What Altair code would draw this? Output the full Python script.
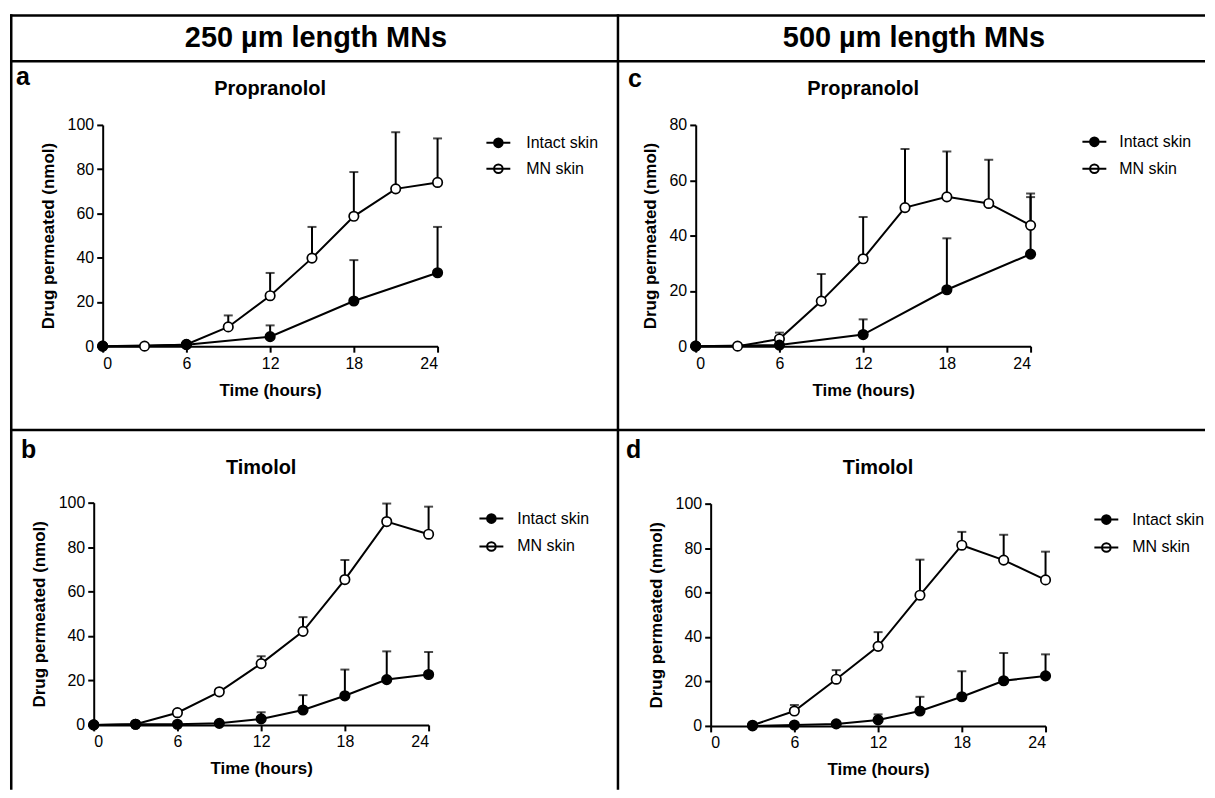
import altair as alt
import pandas as pd

FONT = "Liberation Sans, Arial, sans-serif"

headers = ["250 \u00b5m length MNs", "500 \u00b5m length MNs"]
series_names = ["Intact skin", "MN skin"]
x_ticks = [0, 6, 12, 18, 24]

# ---- panel a : 250 um, Propranolol
a_intact_t = [0, 6, 12, 18, 24]
a_intact_y = [0, 0.7, 4.3, 20.4, 33.2]
a_intact_e = [0, 0, 5.1, 18.5, 20.7]
a_mn_t = [0, 3, 6, 9, 12, 15, 18, 21, 24]
a_mn_y = [0, 0, 0.8, 8.7, 22.8, 39.8, 58.7, 71.1, 74.0]
a_mn_e = [0, 0, 0, 5.2, 10.3, 14.1, 20.0, 25.6, 19.9]

# ---- panel b : 250 um, Timolol
b_intact_t = [0, 3, 6, 9, 12, 15, 18, 21, 24]
b_intact_y = [0, 0.3, 0.3, 0.7, 2.7, 6.7, 13.1, 20.4, 22.7]
b_intact_e = [0, 0, 0, 0, 3.0, 6.7, 11.8, 12.7, 10.1]
b_mn_t = [0, 3, 6, 9, 12, 15, 18, 21, 24]
b_mn_y = [0, 0.3, 5.5, 14.9, 27.6, 42.1, 65.4, 91.5, 85.8]
b_mn_e = [0, 0, 0, 0, 3.3, 6.4, 8.8, 8.1, 12.4]

# ---- panel c : 500 um, Propranolol
c_intact_t = [0, 6, 12, 18, 24]
c_intact_y = [0, 0.4, 4.2, 20.4, 33.3]
c_intact_e = [0, 0, 5.5, 18.6, 20.6]
c_mn_t = [0, 3, 6, 9, 12, 15, 18, 21, 24]
c_mn_y = [0, 0, 2.6, 16.3, 31.6, 50.1, 54.0, 51.6, 43.7]
c_mn_e = [0, 0, 2.3, 9.8, 15.1, 21.2, 16.4, 15.8, 11.5]

# ---- panel d : 500 um, Timolol
d_intact_t = [3, 6, 9, 12, 15, 18, 21, 24]
d_intact_y = [0, 0.4, 0.9, 2.7, 6.7, 13.1, 20.3, 22.5]
d_intact_e = [0, 0, 0, 2.5, 6.4, 11.5, 12.5, 9.7]
d_mn_t = [3, 6, 9, 12, 15, 18, 21, 24]
d_mn_y = [0.3, 6.7, 21.0, 35.8, 58.8, 81.3, 74.6, 65.7]
d_mn_e = [0, 2.7, 4.1, 6.4, 16.0, 6.0, 11.4, 12.7]

LW, RW = 610, 589

panels = {
    "a": dict(drug="Propranolol", ymax=100, yticks=[0, 20, 40, 60, 80, 100],
              data=(a_intact_t, a_intact_y, a_intact_e, a_mn_t, a_mn_y, a_mn_e),
              x0=93, x1=429, y0=286, y1=64, leg=(489, 81), lab_off=15, row_pad=4,
              letter=(6, 24), title=(261, 34), w=LW, h=370, col=0, row=1),
    "b": dict(drug="Timolol", ymax=100, yticks=[0, 20, 40, 60, 80, 100],
              data=(b_intact_t, b_intact_y, b_intact_e, b_mn_t, b_mn_y, b_mn_e),
              x0=84, x1=420, y0=296, y1=73, leg=(482, 88), lab_off=13, row_pad=6,
              letter=(11, 28), title=(252, 44), w=LW, h=361, col=0, row=2),
    "c": dict(drug="Propranolol", ymax=80, yticks=[0, 20, 40, 60, 80],
              data=(c_intact_t, c_intact_y, c_intact_e, c_mn_t, c_mn_y, c_mn_e),
              x0=78, x1=414, y0=286, y1=64, leg=(477, 80), lab_off=12, row_pad=5,
              letter=(10, 26), title=(246, 34), w=RW, h=370, col=1, row=1),
    "d": dict(drug="Timolol", ymax=100, yticks=[0, 20, 40, 60, 80, 100],
              data=(d_intact_t, d_intact_y, d_intact_e, d_mn_t, d_mn_y, d_mn_e),
              x0=93, x1=429, y0=297, y1=74, leg=(489, 89), lab_off=13, row_pad=6,
              letter=(8, 28), title=(261, 44), w=RW, h=361, col=1, row=2),
}

HEAD_H = 47
BORDER = 2.5
HB = BORDER / 2
LEGEND_PATH = "M-1,0L1,0M0.36,0A0.36,0.36,0,1,1,-0.36,0A0.36,0.36,0,1,1,0.36,0Z"


def borders(w, h, col, row):
    one = alt.Chart(pd.DataFrame({"k": [0]}))
    ty = HB if row == 0 else 0
    lx = HB if col == 0 else 0
    top = one.mark_rule(color="black", strokeWidth=BORDER).encode(
        x=alt.value(0), x2=alt.value(w), y=alt.value(ty))
    left = one.mark_rule(color="black", strokeWidth=BORDER).encode(
        x=alt.value(lx), y=alt.value(0), y2=alt.value(h))
    return [top, left]


def make_panel(key):
    p = panels[key]
    it, iy, ie, mt, my, me = p["data"]
    rows = []
    for t, y, e in zip(mt, my, me):
        rows.append({"t": t, "y": y, "e": e, "series": series_names[1]})
    for t, y, e in zip(it, iy, ie):
        rows.append({"t": t, "y": y, "e": e, "series": series_names[0]})
    df = pd.DataFrame(rows)
    df["top"] = df["y"] + df["e"]
    err = df[df["e"] > 0]

    x = alt.X("t:Q",
              scale=alt.Scale(domain=[0, 24], range=[p["x0"], p["x1"]], nice=False, zero=False),
              axis=alt.Axis(values=x_ticks, title="Time (hours)", offset=p["y0"] - p["h"],
                            titlePadding=11))
    y = alt.Y("y:Q",
              scale=alt.Scale(domain=[0, p["ymax"]], range=[p["y0"], p["y1"]], nice=False, zero=True),
              axis=alt.Axis(values=p["yticks"], title="Drug permeated (nmol)", offset=-p["x0"],
                            titlePadding=10))

    base = alt.Chart(df)
    lines = base.mark_line(color="black", strokeWidth=2).encode(x=x, y=y, detail="series:N")
    ebase = alt.Chart(err)
    rules = ebase.mark_rule(color="black", strokeWidth=2).encode(
        x=alt.X("t:Q"), y=alt.Y("y:Q"), y2="top:Q")
    caps = ebase.mark_tick(color="black", orient="horizontal", size=9, thickness=2).encode(
        x=alt.X("t:Q"), y=alt.Y("top:Q"))
    pts = base.mark_point(shape="circle", filled=True, stroke="black", strokeWidth=1.7,
                          size=90, opacity=1).encode(
        x=alt.X("t:Q"), y=alt.Y("y:Q"),
        fill=alt.Fill("series:N",
                      scale=alt.Scale(domain=series_names, range=["black", "white"]),
                      legend=alt.Legend(title=None, orient="none",
                                        legendX=p["leg"][0] - 12, legendY=p["leg"][1] - 12,
                                        symbolType=LEGEND_PATH, symbolSize=576,
                                        symbolStrokeColor="black", symbolStrokeWidth=2,
                                        symbolOpacity=1,
                                        labelFont=FONT, labelFontSize=16, labelColor="black",
                                        labelOffset=p["lab_off"], rowPadding=p["row_pad"],
                                        padding=0, labelLimit=0)))
    letter = alt.Chart(pd.DataFrame({"s": [key]})).mark_text(
        font=FONT, fontSize=25, fontWeight="bold", align="left", baseline="alphabetic",
        color="black").encode(x=alt.value(p["letter"][0]), y=alt.value(p["letter"][1]), text="s:N")
    title = alt.Chart(pd.DataFrame({"s": [p["drug"]]})).mark_text(
        font=FONT, fontSize=20, fontWeight="bold", align="center", baseline="alphabetic",
        color="black").encode(x=alt.value(p["title"][0]), y=alt.value(p["title"][1]), text="s:N")
    return alt.layer(lines, rules, caps, pts, letter, title,
                     *borders(p["w"], p["h"], p["col"], p["row"])).properties(
        width=p["w"], height=p["h"])


def make_header(text, cx, w, col):
    txt = alt.Chart(pd.DataFrame({"s": [text]})).mark_text(
        font=FONT, fontSize=29, fontWeight="bold", align="center", baseline="alphabetic",
        color="black").encode(x=alt.value(cx), y=alt.value(33), text="s:N")
    return alt.layer(txt, *borders(w, HEAD_H, col, 0)).properties(width=w, height=HEAD_H)


res = dict(x="independent", y="independent", fill="independent")

chart = alt.concat(
    make_header(headers[0], 307, LW, 0), make_header(headers[1], 297, RW, 1),
    make_panel("a"), make_panel("c"),
    make_panel("b"), make_panel("d"),
    columns=2, spacing=0, bounds="flush"
).resolve_scale(**res).properties(
    padding={"left": 0, "top": 3, "right": 0, "bottom": 0},
    background="white"
).configure_view(
    stroke="transparent", strokeWidth=0
).configure_axis(
    domainColor="black", domainWidth=2, tickColor="black", tickWidth=2, tickSize=6,
    labelFont=FONT, labelFontSize=16, labelColor="black", labelPadding=3,
    titleFont=FONT, titleFontSize=17, titleFontWeight="bold", titleColor="black",
    grid=False
)

chart.save("out.html", embed_options={"renderer": "svg", "actions": False})
